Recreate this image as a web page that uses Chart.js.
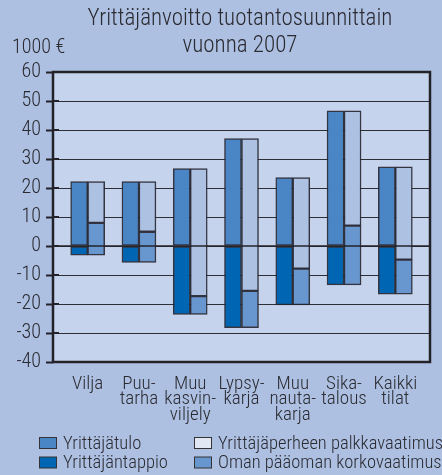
<!DOCTYPE html>
<html lang="fi">
<head>
<meta charset="UTF-8">
<title>Yrittäjänvoitto tuotantosuunnittain vuonna 2007</title>
<style>
  body {
    margin: 0;
    padding: 0;
    background-color: #adc0e2;
  }
  #chart {
    display: block;
  }
</style>
<script src="https://cdn.jsdelivr.net/npm/chart.js"></script>
</head>
<body>
  <canvas id="chart" width="442" height="475"></canvas>

  <script>
    // tuotantosuunnat (x-akselin nimet riveittäin)
    const categories = [
      ['Vilja'],
      ['Puu-', 'tarha'],
      ['Muu', 'kasvin-', 'viljely'],
      ['Lypsy-', 'karja'],
      ['Muu', 'nauta-', 'karja'],
      ['Sika-', 'talous'],
      ['Kaikki', 'tilat']
    ];

    // 1000 € / tila
    const yrittajatulo = [22.2, 22.2, 26.7, 37.0, 23.6, 46.6, 27.3];
    const palkkavaatimus = [14.2, 17.3, 44.0, 52.5, 31.4, 39.6, 32.0];
    const korkovaatimus = [11.2, 10.6, 6.3, 12.7, 12.5, 20.4, 11.9];
    const yrittajantappio = [-3.2, -5.7, -23.6, -28.2, -20.3, -13.4, -16.6];

    const yTicks = [-40, -30, -20, -10, 0, 10, 20, 30, 40, 50, 60];

    const colors = {
      outer: '#adc0e2',
      plot: '#c5d3ed',
      tulo: '#4a86c5',
      tappio: '#0066b3',
      palkka: '#adc1e3',
      palkkaLegend: '#e2e8f3',
      korko: '#6896cf',
      edge: 'rgba(35, 35, 45, 0.9)',
      text: '#2a2a30'
    };

    const FONT = '"Roboto Condensed", "DejaVu Sans Condensed", sans-serif';

    // vasen pylväs: yrittäjätulo / yrittäjäntappio, oikea: vaatimukset
    const tuloBars = yrittajatulo.map((v, i) => ({ x: i, y: [0, v] }));
    const tappioBars = yrittajantappio.map((v, i) => ({ x: i, y: [v, 0] }));
    const palkkaBars = yrittajatulo.map((v, i) => ({ x: i, y: [v - palkkavaatimus[i], v] }));
    const korkoBars = yrittajatulo.map((v, i) => ({
      x: i,
      y: [v - palkkavaatimus[i] - korkovaatimus[i], v - palkkavaatimus[i]]
    }));

    const barStyle = {
      borderColor: colors.edge,
      borderWidth: 1.5,
      borderSkipped: false,
      barThickness: 17
    };

    const legendItems = [
      { text: 'Yrittäjätulo', color: colors.tulo, x: 39, y: 443 },
      { text: 'Yrittäjäntappio', color: colors.tappio, x: 39, y: 462.5 },
      { text: 'Yrittäjäperheen palkkavaatimus', color: colors.palkkaLegend, x: 194, y: 443 },
      { text: 'Oman pääoman korkovaatimus', color: colors.korko, x: 194, y: 462.5 }
    ];

    const backdrop = {
      id: 'backdrop',
      beforeDraw(chart) {
        const { ctx, chartArea: a } = chart;
        ctx.save();
        ctx.fillStyle = colors.outer;
        ctx.fillRect(0, 0, chart.width, chart.height);
        ctx.fillStyle = colors.plot;
        ctx.fillRect(a.left, a.top, a.right - a.left, a.bottom - a.top);
        ctx.restore();
      },
      afterDatasetsDraw(chart) {
        const { ctx, chartArea: a, scales } = chart;
        const y0 = scales.y.getPixelForValue(0);
        ctx.save();
        ctx.strokeStyle = '#222228';
        // nollaviiva
        ctx.lineWidth = 1.5;
        ctx.beginPath();
        ctx.moveTo(a.left, y0);
        ctx.lineTo(a.right, y0);
        ctx.stroke();
        // kehys
        ctx.lineWidth = 2.5;
        ctx.strokeRect(a.left, a.top, a.right - a.left, a.bottom - a.top);
        // lyhyet asteikkoviivat kehyksen sisäpuolelle
        ctx.lineWidth = 2;
        yTicks.forEach(v => {
          const py = scales.y.getPixelForValue(v);
          ctx.beginPath();
          ctx.moveTo(a.left, py);
          ctx.lineTo(a.left + 6, py);
          ctx.stroke();
        });
        ctx.restore();
      },
      afterDraw(chart) {
        const { ctx } = chart;
        ctx.save();
        ctx.fillStyle = colors.text;
        ctx.textBaseline = 'alphabetic';
        ctx.textAlign = 'center';
        ctx.font = '300 23px ' + FONT;
        ctx.fillText('Yrittäjänvoitto tuotantosuunnittain', 240, 25);
        ctx.fillText('vuonna 2007', 240, 52);
        ctx.textAlign = 'left';
        ctx.font = '300 20px ' + FONT;
        ctx.fillText('1000 €', 12, 53);

        ctx.font = '300 18.5px ' + FONT;
        ctx.textBaseline = 'middle';
        legendItems.forEach(item => {
          ctx.fillStyle = item.color;
          ctx.fillRect(item.x, item.y - 5.5, 17, 11);
          ctx.strokeStyle = '#333';
          ctx.lineWidth = 1;
          ctx.strokeRect(item.x + 0.5, item.y - 5.5, 17, 11);
          ctx.fillStyle = colors.text;
          ctx.fillText(item.text, item.x + 24, item.y + 1);
        });
        ctx.restore();
      }
    };

    const ctx = document.getElementById('chart').getContext('2d');
    const chart = new Chart(ctx, {
      type: 'bar',
      data: {
        datasets: [
          { label: 'Yrittäjätulo', data: tuloBars, backgroundColor: colors.tulo, stack: 'a', ...barStyle },
          { label: 'Yrittäjäntappio', data: tappioBars, backgroundColor: colors.tappio, stack: 'a', ...barStyle },
          { label: 'Yrittäjäperheen palkkavaatimus', data: palkkaBars, backgroundColor: colors.palkka, stack: 'b', ...barStyle },
          { label: 'Oman pääoman korkovaatimus', data: korkoBars, backgroundColor: colors.korko, stack: 'b', ...barStyle }
        ]
      },
      options: {
        responsive: false,
        animation: false,
        devicePixelRatio: 1,
        layout: {
          padding: { top: 72, right: 12, bottom: 0, left: 0 }
        },
        plugins: {
          legend: { display: false },
          title: { display: false },
          tooltip: { enabled: false }
        },
        scales: {
          x: {
            type: 'linear',
            min: -0.676,
            max: 6.676,
            offset: false,
            afterFit: scale => { scale.height = 113; },
            afterBuildTicks: scale => {
              scale.ticks = categories.map((c, i) => ({ value: i }));
            },
            grid: { display: false },
            border: { display: false },
            ticks: {
              autoSkip: false,
              maxRotation: 0,
              padding: 6,
              color: colors.text,
              font: { family: FONT, size: 19, weight: 300, lineHeight: 0.82 },
              callback: value => categories[value]
            }
          },
          y: {
            stacked: false,
            min: -40,
            max: 60,
            afterFit: scale => { scale.width = 53; },
            afterBuildTicks: scale => {
              scale.ticks = yTicks.map(v => ({ value: v }));
            },
            grid: {
              color: '#2e2e36',
              lineWidth: 1,
              tickLength: 7,
              tickColor: '#222228',
              tickWidth: 2
            },
            border: { display: false },
            ticks: {
              padding: 5,
              color: colors.text,
              font: { family: FONT, size: 20, weight: 300 }
            }
          }
        }
      },
      plugins: [backdrop]
    });
  </script>
</body>
</html>
